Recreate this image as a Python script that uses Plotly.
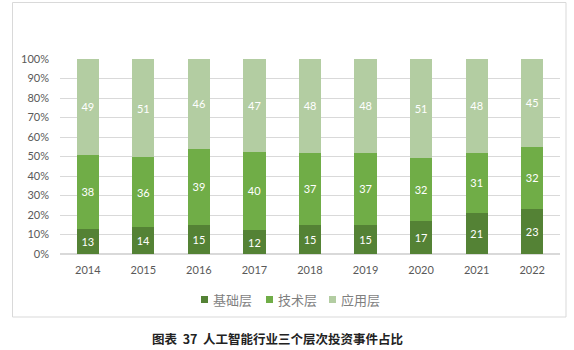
import plotly.graph_objects as go

years = ["2014", "2015", "2016", "2017", "2018", "2019", "2020", "2021", "2022"]
base_layer = [13, 14, 15, 12, 15, 15, 17, 21, 23]
tech_layer = [38, 36, 39, 40, 37, 37, 32, 31, 32]
app_layer = [49, 51, 46, 47, 48, 48, 51, 48, 45]
series_names = ["基础层", "技术层", "应用层"]
colors = ["#548235", "#70AD47", "#B3CDA2"]

W, H = 574, 350
L, R, T, B = 60, 14, 59, 96
pw, ph = W - L - R, H - T - B

def px2x(p):
    return (p - L) / pw

def py2y(p):
    return (H - B - p) / ph

fig = go.Figure()
for name, vals, c in zip(series_names, [base_layer, tech_layer, app_layer], colors):
    fig.add_trace(go.Bar(
        x=years, y=vals, name=name,
        marker=dict(color=c, line=dict(width=0)),
        text=[str(v) for v in vals],
        textposition="inside", insidetextanchor="middle",
        textfont=dict(color="white", size=11, family="Lato, Noto Sans CJK SC"),
        hoverinfo="skip", showlegend=False,
    ))

shapes = [dict(type="rect", xref="paper", yref="paper",
               x0=px2x(12.5), x1=px2x(566), y0=py2y(317), y1=py2y(2.5),
               line=dict(color="#D9D9D9", width=1), fillcolor="rgba(0,0,0,0)", layer="below")]
annotations = [dict(text="<b>图表  37  人工智能行业三个层次投资事件占比</b>", xref="paper", yref="paper",
                    x=px2x(277), y=py2y(338), xanchor="center", yanchor="middle", showarrow=False,
                    font=dict(size=12.5, color="#222222", family="Noto Sans CJK SC"))]

# legend (squares + labels)
sq_x = [201, 266, 329]
tx_x = [211, 276, 339]
for name, c, sx, tx in zip(series_names, colors, sq_x, tx_x):
    shapes.append(dict(type="rect", xref="paper", yref="paper",
                       x0=px2x(sx), x1=px2x(sx + 7), y0=py2y(303), y1=py2y(296),
                       line=dict(width=0), fillcolor=c))
    annotations.append(dict(text=name, xref="paper", yref="paper", x=px2x(tx), y=py2y(299.5),
                            xanchor="left", yanchor="middle", showarrow=False,
                            font=dict(size=13, color="#7F7F7F", family="Noto Sans CJK SC")))

fig.update_layout(
    width=W, height=H,
    margin=dict(l=L, r=R, t=T, b=B),
    barmode="stack", barnorm="percent", bargap=0.6,
    paper_bgcolor="white", plot_bgcolor="white",
    font=dict(family="Lato, Noto Sans CJK SC", color="#595959", size=11),
    showlegend=False,
    xaxis=dict(showgrid=False, showline=False, ticks="", ticklabelstandoff=8,
               tickfont=dict(size=11, color="#595959")),
    yaxis=dict(range=[0, 100], dtick=10, ticksuffix="%", showgrid=True, gridcolor="#D9D9D9",
               gridwidth=1, zeroline=True, zerolinecolor="#D9D9D9", showline=False,
               ticklabelstandoff=10, tickfont=dict(size=11, color="#595959")),
    shapes=shapes,
    annotations=annotations,
)

fig.write_html("out.html")
